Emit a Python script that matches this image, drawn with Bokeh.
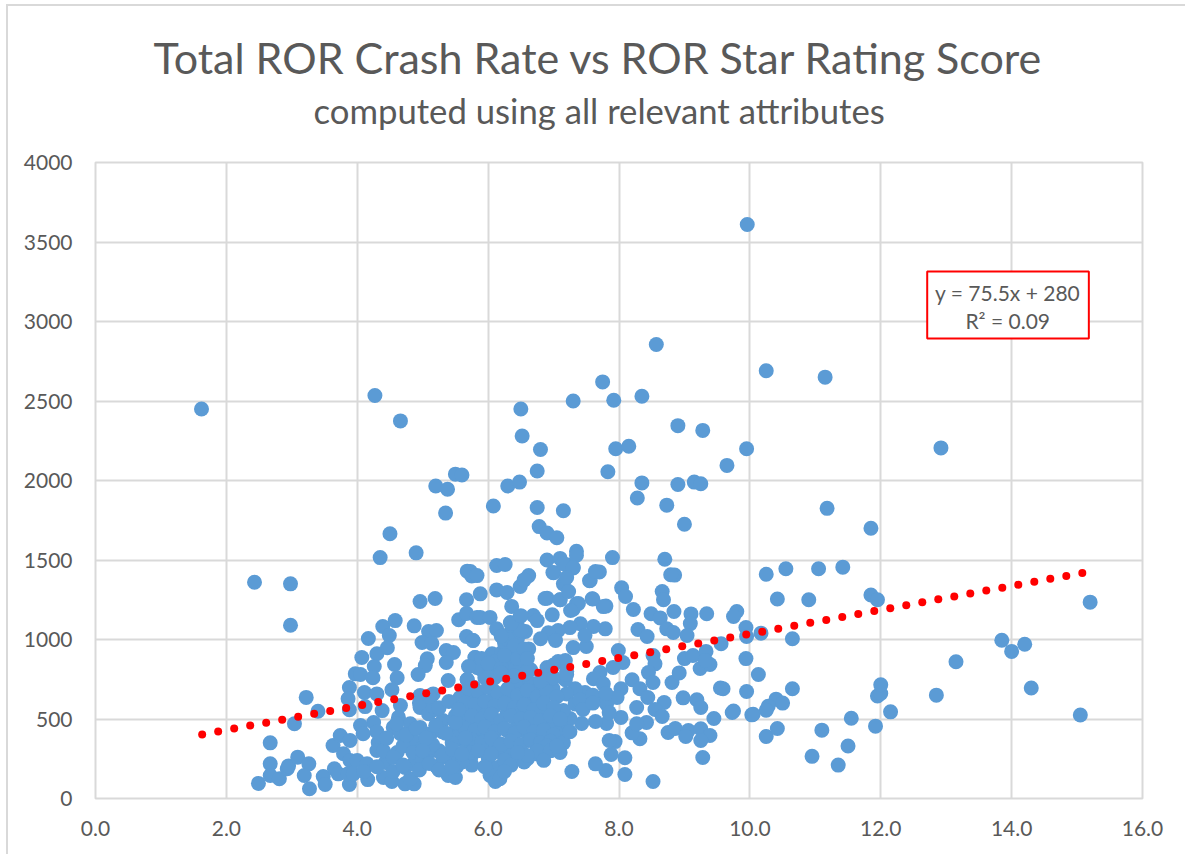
import numpy as np
from bokeh.embed import file_html
from bokeh.models import FixedTicker, NumeralTickFormatter, Range1d, Title
from bokeh.plotting import figure
from bokeh.resources import INLINE
from bokeh.core.properties import value

TITLE = "Total ROR Crash Rate vs ROR Star Rating Score"
SUBTITLE = "computed using all relevant attributes"
EQUATION = "y = 75.5x + 280"
R_SQUARED = "R\u00b2 = 0.09"
SLOPE = 75.5
INTERCEPT = 280
TREND_START = 1.63
TREND_END = 15.08
TREND_DOTS = 56
X_TICKS = [0, 2, 4, 6, 8, 10, 12, 14, 16]
Y_TICKS = [0, 500, 1000, 1500, 2000, 2500, 3000, 3500, 4000]

outer_x = [1.62,2.43,2.98,2.98,4.27,4.66,9.96,8.57,10.25,11.15,
           12.92,7.75,8.35,7.30,7.92,6.50,6.52,6.80,8.90,9.28,
           9.95,7.95,8.15,9.65,7.83,6.75,6.30,6.48,5.50,5.60,
           5.20,5.38,5.35,6.08,6.75,7.15,8.35,8.28,8.90,9.15,
           9.25,8.73,9.00,11.18,11.85,4.50,4.35,4.90,6.78,6.90,
           7.05,6.90,7.10,7.20,7.30,7.35,7.35,7.90,8.70,8.85,
           7.70,7.55,7.60,7.80,7.10,7.30,6.90,7.35,7.15,7.00,
           10.25,10.55,10.42,10.17,10.65,10.90,11.05,11.42,11.85,11.95,
           10.65,10.40,10.50,10.28,10.25,10.25,10.42,10.95,11.10,11.35,
           11.50,11.55,11.92,11.95,12.00,12.00,12.15,12.85,13.15,13.85,
           14.00,14.20,14.30,15.05,15.20,10.05,9.75,9.55,5.75,5.68]
outer_y = [2450,1360,1350,1090,2535,2375,3610,2855,2690,2650,
           2205,2620,2530,2500,2505,2450,2280,2195,2345,2315,
           2200,2200,2215,2095,2055,2060,1965,1990,2040,2035,
           1965,1945,1795,1840,1830,1810,1985,1890,1975,1990,
           1980,1845,1725,1825,1700,1665,1515,1545,1710,1670,
           1640,1500,1510,1470,1450,1555,1530,1515,1505,1405,
           1425,1370,1255,1210,1250,1190,1260,1225,1350,1420,
           1410,1445,1255,1040,1005,1250,1445,1455,1280,1250,
           690,625,600,580,555,390,440,265,430,210,
           330,505,455,645,660,715,545,650,860,995,
           925,970,695,525,1235,530,550,695,1400,1430]

left_x = [2.49,2.67,2.67,2.67,2.81,2.93,2.95,3.09,3.26,3.19,
          3.27,3.04,3.22,3.40,3.48,3.51,3.65,3.63,3.74,3.89,
          3.79,3.89,3.71,3.88,3.86,3.88,3.86,3.88,3.97,4.05,
          4.07,4.17,4.30,4.26,4.24,4.39,4.49,4.46,4.58,4.57,
          4.61,4.53,4.11,4.30,4.12,4.38,4.66,4.63,4.55,4.25,
          4.05,4.09,4.32,4.30,4.00,4.15,4.16,3.94,4.43,4.40,
          4.53,4.73,4.87,4.81,4.61,4.76,4.86,4.73,5.21,5.39,
          5.50,5.52,4.96,5.19,4.87,5.09,5.21,4.99,5.14,5.07,
          5.04,4.93,5.36,5.47,5.36,5.39,5.68,4.96,5.16,4.96,
          5.09,5.31,5.57,5.77,5.73,5.83,5.67,5.55,5.67,5.83,
          5.67,5.77,5.80,5.83,4.81,4.96,5.12,5.27,5.42,5.57,
          5.73,4.86,5.00,5.16,5.42,5.62,5.73,5.83,4.66,5.20]
left_y = [95,350,218,145,124,187,205,260,218,145,
          61,470,636,549,138,88,187,333,396,365,
          281,239,155,88,155,698,627,558,784,780,
          887,1006,910,830,759,1082,1025,948,1119,843,
          759,684,667,658,578,553,585,510,447,478,
          459,407,352,302,239,218,119,155,226,132,
          107,92,92,124,289,352,218,195,201,145,
          132,201,1239,1258,1086,1050,1057,981,975,879,
          836,780,931,918,855,742,747,648,658,572,
          533,491,635,597,1428,1402,1250,1124,1164,1138,
          1019,994,887,824,470,447,407,470,407,428,
          491,365,321,302,289,365,258,321,407,560]

mid_x = [6.13,6.26,6.62,6.49,6.55,6.99,7.15,7.30,7.20,7.56,
         7.64,8.79,8.04,8.10,8.66,8.68,8.22,8.84,8.49,8.63,
         9.10,9.09,9.34,9.80,9.75,9.94,8.29,8.43,8.73,8.83,
         9.04,9.95,9.56,9.94,10.13,7.99,8.06,7.91,7.71,7.61,
         7.76,8.20,8.52,8.55,8.45,8.52,8.32,8.44,8.81,8.92,
         9.00,9.13,9.33,9.24,9.39,9.32,9.59,9.95,8.98,9.19,
         9.25,9.45,9.73,10.03,8.75,8.86,8.69,8.55,8.66,9.06,
         9.02,9.25,9.39,9.25,9.28,8.52,8.09,8.09,7.88,7.80,
         7.64,7.28,7.94,7.85,8.32,8.20,8.42,8.27,8.27,8.03,
         8.03,7.81,7.64,7.43,7.25,7.69,7.81,7.97,7.48,7.33,
         7.20,7.18,6.99,7.79,7.61,7.41,7.25,7.07,6.92,6.80,
         7.03,7.30,7.50,7.48,7.76,7.59,7.38,7.26,7.10,7.23,
         6.87,6.98,6.69,6.75,6.57,6.62,6.13,6.29,5.88,6.36,
         6.49,5.88,6.03,6.13,6.34,6.34,5.77,6.34,6.06,5.80,
         5.88,6.21,6.39,6.54,6.34,6.03,6.90,7.07,7.18,6.92,
         5.68,6.54,6.67,6.82,6.08,6.23,5.73,5.88,6.39,6.59,
         6.84,5.62,5.83,6.03,6.29,6.49,6.69,6.90,7.15,7.33,
         5.68,5.88,6.08,6.29,6.54,6.75,6.95,7.10,5.68,5.98,
         6.18,6.41,6.62,6.75,6.99,7.10,7.05,5.73,6.00,6.30,
         6.54,6.14,6.03,6.11,6.18,5.60,5.60,5.78,5.95,6.12,
         6.25,6.40,6.55,6.70,6.85,5.50,5.70,5.90,6.10,6.30,
         6.45,6.60,6.78,6.92,5.25,5.45,5.65,5.85,6.05,6.20,
         6.35,6.50,6.65,6.80,5.10,5.30,5.50,5.70,5.90,6.10,
         6.28,6.42,6.58,5.15,5.35,5.55,5.75,5.95,6.15,6.35,
         6.60,6.80,6.95,5.90,6.10,6.25,6.45,7.00,7.20,7.40]
mid_y = [1465,1472,1402,1333,1375,1421,1476,1453,1390,1371,
         1428,1407,1325,1270,1302,1250,1189,1176,1162,1136,
         1161,1100,1162,1176,1145,1075,1063,1019,1067,1044,
         1025,1019,973,880,780,931,855,824,792,753,
         721,747,899,847,792,730,690,635,730,790,
         880,899,925,818,843,868,690,673,633,621,
         572,503,541,526,415,440,604,560,516,428,
         390,438,396,365,258,107,151,256,277,176,
         218,170,358,365,376,413,478,572,470,510,
         690,472,484,472,503,627,595,635,667,690,
         658,747,692,1067,1082,1099,1075,1057,1042,1005,
         994,949,956,1025,1207,1256,1226,1182,1250,1302,
         1258,1155,1151,1119,1050,941,1312,1296,1287,1208,
         1145,1139,1139,1067,1107,1044,994,973,910,887,
         816,918,918,855,847,816,824,862,868,774,
         748,710,721,698,679,658,616,616,616,616,
         616,533,510,491,533,533,533,553,553,595,
         428,407,407,428,428,428,470,470,352,321,
         344,321,365,321,313,333,407,250,258,256,
         243,195,145,107,124,640,480,700,760,640,
         780,700,780,650,720,380,450,550,480,560,
         470,450,460,480,300,350,300,370,340,290,
         280,300,380,330,320,420,520,380,620,760,
         800,720,640,580,260,240,210,200,300,270,
         250,330,300,880,860,980,1010,840,800,600]

cloud_x = [5.70,5.85,6.00,6.15,6.30,6.45,6.60,6.75,6.90,7.05,
           5.65,5.80,5.95,6.10,6.25,6.40,6.55,6.70,6.85,7.00,
           5.75,5.90,6.05,6.20,6.35,6.50,6.65,6.80,6.95,7.10,
           5.65,5.80,5.95,6.10,6.25,6.40,6.55,6.70,6.85,7.00,
           5.75,5.90,6.05,6.20,6.35,6.50,6.65,6.80,6.95,7.15,
           4.40,4.55,4.70,4.85,5.00,5.15,5.30,5.45,5.60,5.75,
           4.30,4.45,4.60,4.75,4.90,5.05,5.20,5.35,5.50,5.65,
           4.95,5.10,5.25,5.40,5.55,5.70,6.00,6.20,6.45,6.65,
           6.00,6.20,6.40,6.60,6.80,7.00,7.20,7.40,7.60,7.80,
           5.85,6.05,6.25,6.55,6.75,6.90,7.25,7.45,7.60,7.85,
           6.30,6.40,6.50,6.25,6.45,6.55,6.35,6.60,6.20,6.50,
           4.10,4.30,4.55,4.70,4.95,5.10,5.25,5.45,5.60,5.00,
           6.35,6.55,6.75,6.95,7.10,6.25,6.60,6.85,7.05,6.45]
cloud_y = [690,670,700,660,690,650,680,640,670,640,
           600,590,610,580,600,570,590,560,600,570,
           520,500,530,490,520,500,510,490,520,500,
           440,430,450,420,440,410,450,420,430,400,
           370,350,380,340,360,340,370,350,360,350,
           300,260,330,290,250,340,270,310,230,290,
           420,380,470,400,440,380,460,410,480,380,
           600,640,570,610,560,830,850,820,840,810,
           760,790,770,800,740,760,780,620,650,660,
           300,280,240,260,280,330,420,560,600,540,
           1000,960,1060,900,880,940,1100,880,1020,1150,
           170,200,170,210,180,220,180,200,280,300,
           210,230,300,300,290,170,270,240,330,290]

score = outer_x + left_x + mid_x + cloud_x
crash_rate = outer_y + left_y + mid_y + cloud_y
trend_x = np.linspace(TREND_START, TREND_END, TREND_DOTS)
trend_y = SLOPE * trend_x + INTERCEPT

TEXT = "#595959"
GRID = "#D9D9D9"
FONT = "Lato"

p = figure(
    width=1179, height=850, output_backend="svg", toolbar_location=None,
    x_range=Range1d(0, 16), y_range=Range1d(0, 4000),
    frame_width=1047, frame_height=636,
    min_border_left=87, min_border_top=156, min_border_right=45, min_border_bottom=58,
    margin=(6, 0, 0, 8),
    background_fill_color="white", border_fill_color="white",
)
p.styles = {"box-shadow": f"-2px -2px 0 0 {GRID}"}
p.outline_line_color = GRID
p.outline_line_width = 2

for ax, ticks in ((p.xaxis[0], X_TICKS), (p.yaxis[0], Y_TICKS)):
    ax.ticker = FixedTicker(ticks=ticks)
    ax.axis_line_color = None
    ax.major_tick_line_color = None
    ax.minor_tick_line_color = None
    ax.major_label_text_font = FONT
    ax.major_label_text_font_size = "21px"
    ax.major_label_text_color = TEXT
p.xaxis[0].formatter = NumeralTickFormatter(format="0.0")
p.xaxis[0].major_label_standoff = 16
p.yaxis[0].major_label_standoff = 17

p.xgrid[0].ticker = FixedTicker(ticks=X_TICKS)
p.ygrid[0].ticker = FixedTicker(ticks=Y_TICKS)
p.grid.grid_line_color = GRID
p.grid.grid_line_width = 2

spacer = Title(text="\u00a0", text_font_size="12px", standoff=14)
sub = Title(text=SUBTITLE, align="left", offset=218, text_font=FONT,
            text_font_size="34.7px", text_font_style="normal", text_color=TEXT, standoff=4)
main = Title(text=TITLE, align="left", offset=58, text_font=FONT,
             text_font_size="43px", text_font_style="normal", text_color=TEXT, standoff=6)
p.add_layout(spacer, "above")
p.add_layout(sub, "above")
p.add_layout(main, "above")

p.scatter(score, crash_rate, size=15, marker="circle", fill_color="#5B9BD5", line_color=None)
p.scatter(trend_x, trend_y, size=8, marker="circle", fill_color="#FF0000", line_color=None)

p.quad(left=[12.71], right=[15.18], bottom=[2893], top=[3314], fill_color="white",
       line_color="#FF0000", line_width=2)
p.text(x=[13.94], y=[3182], text=[EQUATION], text_align="center", text_baseline="middle",
       text_font=value(FONT), text_font_size="21px", text_color=TEXT)
p.text(x=[13.94], y=[3006], text=[R_SQUARED], text_align="center", text_baseline="middle",
       text_font=value(FONT), text_font_size="21px", text_color=TEXT)

open("out.html", "w").write(file_html(p, INLINE))
